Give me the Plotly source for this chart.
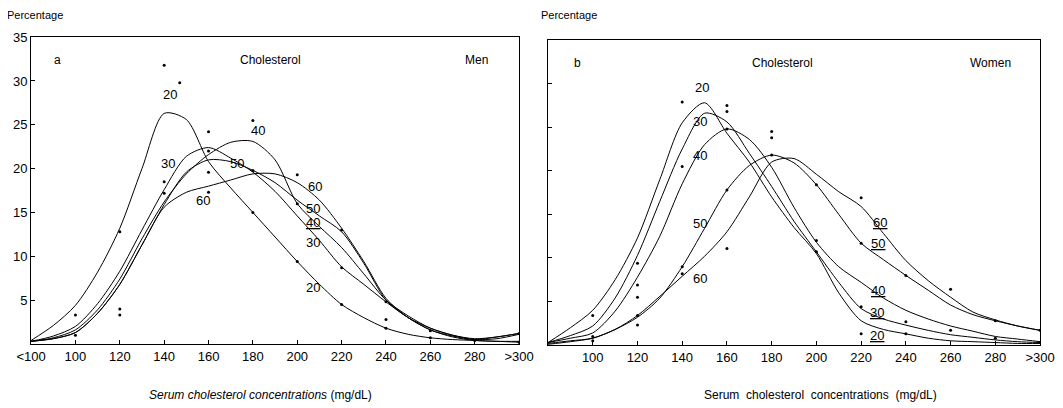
import plotly.graph_objects as go

# ---------------- data ----------------
x_grid = [80, 90, 100, 110, 120, 130, 140, 150, 160, 170, 180, 190, 200,
          210, 220, 230, 240, 250, 260, 270, 280, 290, 300]

# Men (panel a) smoothed curves, percentage by age group
men_20 = [0.4, 2.1, 4.4, 8.2, 13.2, 20.0, 26.3, 25.6, 20.8, 17.8, 15.0, 12.2, 9.4,
          6.8, 4.5, 3.0, 1.8, 1.1, 0.7, 0.5, 0.4, 0.3, 0.3]
men_30 = [0.3, 0.9, 2.0, 4.6, 8.3, 13.0, 17.6, 21.4, 22.4, 21.2, 19.6, 17.4, 14.6,
          11.8, 8.8, 6.8, 4.8, 3.0, 1.8, 1.0, 0.6, 0.8, 1.2]
men_40 = [0.3, 0.7, 1.6, 3.9, 7.4, 12.0, 16.2, 19.4, 21.6, 23.0, 23.1, 21.0, 16.0,
          13.4, 11.0, 8.0, 5.0, 3.2, 1.8, 1.0, 0.5, 0.8, 1.2]
men_50 = [0.3, 0.6, 1.3, 3.5, 6.8, 11.3, 15.9, 19.6, 21.0, 20.8, 19.8, 18.4, 16.4,
          14.6, 12.8, 9.2, 5.0, 3.0, 1.6, 0.9, 0.5, 0.6, 1.1]
men_60 = [0.3, 0.6, 1.3, 3.5, 6.8, 11.3, 15.6, 17.3, 18.0, 18.7, 19.4, 19.4, 18.4,
          16.4, 13.2, 9.4, 5.2, 3.0, 1.6, 0.8, 0.4, 0.3, 0.2]

# Women (panel b) smoothed curves
wom_20 = [0.3, 2.0, 4.0, 7.5, 12.3, 19.0, 25.5, 27.8, 24.3, 21.0, 17.0, 13.5, 10.5,
          6.0, 2.8, 1.8, 1.3, 0.8, 0.5, 0.4, 0.3, 0.2, 0.2]
wom_30 = [0.3, 1.1, 2.2, 5.4, 10.3, 16.5, 22.5, 26.6, 25.6, 22.0, 18.2, 14.2, 10.7,
          7.2, 4.2, 3.0, 2.3, 1.7, 1.2, 0.9, 0.6, 0.4, 0.3]
wom_40 = [0.3, 0.8, 1.4, 3.9, 7.8, 12.5, 18.5, 23.0, 24.8, 23.6, 20.4, 15.8, 11.8,
          9.0, 7.2, 5.4, 4.0, 3.0, 2.2, 1.6, 1.0, 0.7, 0.4]
wom_50 = [0.2, 0.5, 0.8, 1.8, 3.2, 5.4, 9.0, 13.4, 17.8, 20.6, 21.8, 20.9, 18.4,
          15.0, 11.7, 9.8, 8.0, 6.3, 4.6, 3.5, 2.8, 2.2, 1.7]
wom_60 = [0.1, 0.4, 0.8, 1.8, 3.4, 5.6, 7.9, 10.2, 13.0, 17.0, 21.0, 21.4, 19.6,
          17.6, 15.9, 12.8, 9.7, 7.4, 5.5, 3.8, 2.9, 2.2, 1.7]

# observed points (scattered dots)
men_dot_x = [100, 100, 120, 120, 120, 140, 147, 140, 140, 160, 160, 160, 160,
             180, 180, 180, 200, 200, 200, 220, 220, 220, 240, 240, 240,
             260, 260, 280, 300, 300]
men_dot_y = [3.3, 1.0, 12.8, 4.0, 3.3, 31.8, 29.8, 18.5, 17.2, 24.2, 22.0, 19.6, 17.3,
             25.5, 19.8, 15.0, 19.3, 16.0, 9.4, 13.0, 8.7, 4.5, 4.8, 2.8, 1.8,
             1.5, 0.7, 0.4, 1.2, 0.2]
wom_dot_x = [100, 100, 100, 120, 120, 120, 120, 120, 140, 140, 140, 140,
             160, 160, 160, 160, 160, 180, 180, 180, 200, 200, 200,
             220, 220, 220, 220, 240, 240, 240, 260, 260, 280, 280, 300, 300]
wom_dot_y = [3.4, 1.0, 0.5, 9.4, 6.9, 5.5, 3.4, 2.3, 27.9, 20.5, 9.0, 8.2,
             27.5, 26.8, 24.8, 17.8, 11.1, 24.5, 23.8, 21.8, 18.4, 12.0, 10.7,
             16.9, 11.7, 4.4, 1.3, 8.0, 2.7, 1.3, 6.4, 1.7, 2.8, 0.8, 1.7, 0.3]

tick_vals = [80, 100, 120, 140, 160, 180, 200, 220, 240, 260, 280, 300]
tick_text_a = ["&lt;100", "100", "120", "140", "160", "180", "200", "220",
               "240", "260", "280", "&gt;300"]
tick_text_b = ["", "100", "120", "140", "160", "180", "200", "220",
               "240", "260", "280", "&gt;300"]
y_ticks = [5, 10, 15, 20, 25, 30, 35]

# curve labels: text, x, y
men_labels_txt = ["20", "30", "40", "50", "60", "60", "50", "<u>40</u>", "30", "20"]
men_labels_x = [142.7, 141.8, 182.3, 172.8, 157.6, 208, 207, 207, 207, 207]
men_labels_y = [28.4, 20.6, 24.4, 20.6, 16.4, 18.0, 15.5, 13.8, 11.6, 6.4]
wom_labels_txt = ["20", "30", "40", "50", "60", "<u>60</u>", "<u>50</u>",
                  "<u>40</u>", "<u>30</u>", "<u>20</u>"]
wom_labels_x = [148.7, 148, 148, 148, 148, 228.5, 227.6, 227.6, 227, 227]
wom_labels_y = [29.6, 25.6, 21.8, 14.0, 7.7, 14.1, 11.7, 6.3, 3.7, 1.1]

# ---------------- figure ----------------
FONT = "Liberation Sans, Arial, sans-serif"
fig = go.Figure()

def add_curves(series, xa, ya):
    for ys in series:
        fig.add_trace(go.Scatter(x=x_grid, y=ys, mode="lines",
                                 line=dict(color="black", width=1, shape="spline",
                                           smoothing=0.8),
                                 xaxis=xa, yaxis=ya, showlegend=False,
                                 hoverinfo="skip"))

add_curves([men_20, men_30, men_40, men_50, men_60], "x", "y")
add_curves([wom_20, wom_30, wom_40, wom_50, wom_60], "x2", "y2")

fig.add_trace(go.Scatter(x=men_dot_x, y=men_dot_y, mode="markers",
                         marker=dict(color="black", size=3),
                         xaxis="x", yaxis="y", showlegend=False))
fig.add_trace(go.Scatter(x=wom_dot_x, y=wom_dot_y, mode="markers",
                         marker=dict(color="black", size=3),
                         xaxis="x2", yaxis="y2", showlegend=False))

ann = []
for t, x, y in zip(men_labels_txt, men_labels_x, men_labels_y):
    ann.append(dict(text=t, x=x, y=y, xref="x", yref="y", showarrow=False,
                    font=dict(size=13, color="black", family=FONT)))
for t, x, y in zip(wom_labels_txt, wom_labels_x, wom_labels_y):
    ann.append(dict(text=t, x=x, y=y, xref="x2", yref="y2", showarrow=False,
                    font=dict(size=13, color="black", family=FONT)))

# panel texts
for t, x, xr in [("a", 91.7, "x"), ("Cholesterol", 187.8, "x"), ("Men", 281, "x"),
                 ("b", 93, "x2"), ("Cholesterol", 185, "x2"), ("Women", 278, "x2")]:
    ann.append(dict(text=t, x=x, y=32.4, xref=xr, yref="y" if xr == "x" else "y2",
                    showarrow=False, font=dict(size=12, color="black", family=FONT)))

ann.append(dict(text="Percentage", x=0.0, y=0.983, xref="paper", yref="paper",
                xanchor="left", yanchor="middle", xshift=-3, showarrow=False,
                font=dict(size=11, color="black", family=FONT)))
ann.append(dict(text="Percentage", x=0.4997, y=0.983, xref="paper", yref="paper",
                xanchor="left", yanchor="middle", showarrow=False,
                font=dict(size=11, color="black", family=FONT)))
ann.append(dict(text="<i>Serum cholesterol concentrations</i> (mg/dL)",
                x=0.2371, y=0.0515, xref="paper", yref="paper", showarrow=False,
                xanchor="center", yanchor="middle",
                font=dict(size=12, color="black", family=FONT)))
ann.append(dict(text="Serum  cholesterol  concentrations  (mg/dL)",
                x=0.7639, y=0.0515, xref="paper", yref="paper", showarrow=False,
                xanchor="center", yanchor="middle",
                font=dict(size=12, color="black", family=FONT)))

ax_common = dict(showgrid=False, zeroline=False, showline=True, linecolor="black",
                 linewidth=1, mirror=True, ticks="inside", ticklen=4,
                 automargin=False,
                 tickcolor="black", tickfont=dict(size=13, color="black", family=FONT))

fig.update_layout(
    width=1063, height=408,
    margin=dict(l=0, r=0, t=0, b=0, autoexpand=False),
    paper_bgcolor="white", plot_bgcolor="white",
    font=dict(family=FONT, color="black"),
    annotations=ann,
    xaxis=dict(domain=[0.0217, 0.4808], range=[80, 300], tickmode="array",
               tickvals=tick_vals, ticktext=tick_text_a, anchor="y", **ax_common),
    yaxis=dict(domain=[0.1766, 0.9286], range=[0, 35], tickmode="array",
               tickvals=y_ticks, anchor="x", **ax_common),
    xaxis2=dict(domain=[0.508, 0.9709], range=[80, 300], tickmode="array",
                tickvals=tick_vals, ticktext=tick_text_b, anchor="y2", **ax_common),
    yaxis2=dict(domain=[0.1736, 0.9216], range=[0, 35], tickmode="array",
                tickvals=y_ticks, showticklabels=False, anchor="x2", **ax_common),
)

fig.write_html("out.html")
